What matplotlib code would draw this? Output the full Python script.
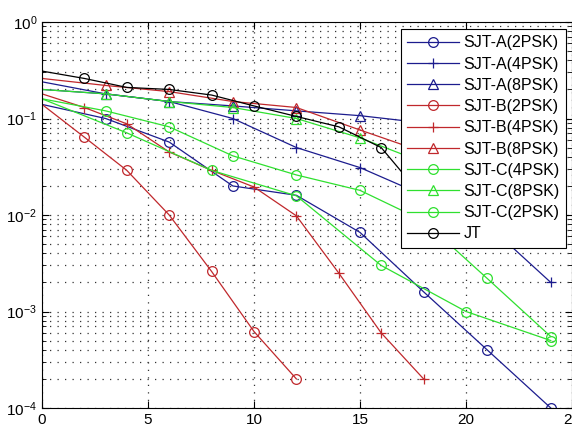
import matplotlib
matplotlib.use('Agg')
import matplotlib.pyplot as plt
from matplotlib.ticker import LogLocator, FixedLocator

plt.rcParams['font.family'] = ['Liberation Sans', 'DejaVu Sans']

# values (SNR on x, error rate on y)
x_a = [0, 3, 6, 9, 12, 15, 18, 21, 24]
a_2psk = [0.14, 0.10, 0.057, 0.020, 0.016, 0.0066, 0.0016, 0.0004, 0.0001]
a_4psk = [0.20, 0.18, 0.15, 0.10, 0.05, 0.031, 0.016, 0.008, 0.002]
a_8psk = [0.24, 0.18, 0.15, 0.135, 0.12, 0.107, 0.09, 0.075, 0.06]

x_b = [0, 2, 4, 6, 8, 10, 12, 14, 16, 18]
b_2psk = [0.14, 0.064, 0.029, 0.010, 0.0026, 0.00062, 0.0002]
b_4psk = [0.18, 0.13, 0.088, 0.045, 0.029, 0.0195, 0.0098, 0.0025, 0.0006, 0.0002]
x_b8 = [0, 3, 6, 9, 12, 15, 18, 21, 24]
b_8psk = [0.26, 0.22, 0.19, 0.15, 0.13, 0.076, 0.045, 0.025, 0.012]

x_c4 = [0, 3, 6, 9, 12, 15, 18, 21, 24]
c_4psk = [0.16, 0.12, 0.082, 0.041, 0.026, 0.018, 0.0087, 0.0022, 0.00055]
x_c8 = [0, 3, 6, 9, 12, 15, 18, 21, 24]
c_8psk = [0.20, 0.18, 0.15, 0.13, 0.10, 0.063, 0.035, 0.018, 0.008]
x_c2 = [0, 4, 8, 12, 16, 20, 24]
c_2psk = [0.16, 0.071, 0.029, 0.0158, 0.003, 0.001, 0.0005]

x_jt = [0, 2, 4, 6, 8, 10, 12, 14, 16, 18]
jt = [0.31, 0.26, 0.21, 0.20, 0.175, 0.135, 0.105, 0.082, 0.05, 0.015]

blue = '#1c1c8e'
red = '#c0282c'
green = '#2fe02f'

fig = plt.figure(figsize=(5.72, 4.28), dpi=100)
ax = fig.add_axes([42 / 572, 20 / 428, 530 / 572, 386 / 428])

style = dict(lw=0.9, ms=7, mfc='none', mew=0.9, markevery=slice(1, None))
ax.semilogy(x_a, a_2psk, 'o-', color=blue, label='SJT-A(2PSK)', **style)
ax.semilogy(x_a, a_4psk, '+-', color=blue, label='SJT-A(4PSK)', **style)
ax.semilogy(x_a, a_8psk, '^-', color=blue, label='SJT-A(8PSK)', **style)
ax.semilogy(x_b[:len(b_2psk)], b_2psk, 'o-', color=red, label='SJT-B(2PSK)', **style)
ax.semilogy(x_b, b_4psk, '+-', color=red, label='SJT-B(4PSK)', **style)
ax.semilogy(x_b8, b_8psk, '^-', color=red, label='SJT-B(8PSK)', **style)
ax.semilogy(x_c4, c_4psk, 'o-', color=green, label='SJT-C(4PSK)', **style)
ax.semilogy(x_c8, c_8psk, '^-', color=green, label='SJT-C(8PSK)', **style)
ax.semilogy(x_c2, c_2psk, 'o-', color=green, label='SJT-C(2PSK)', **style)
ax.semilogy(x_jt, jt, 'o-', color='black', label='JT', **style)

ax.set_xlim(0, 25)
ax.set_ylim(1e-4, 1)
ax.xaxis.set_major_locator(FixedLocator([0, 5, 10, 15, 20, 25]))
ax.yaxis.set_major_locator(LogLocator(base=10, numticks=10))
ax.yaxis.set_minor_locator(LogLocator(base=10, subs=range(2, 10), numticks=20))

grid_ls = (0, (1, 5))
ax.grid(True, which='major', axis='both', color='#333333', ls=grid_ls, lw=0.9)
ax.grid(True, which='minor', axis='y', color='#333333', ls=grid_ls, lw=0.9)

ax.tick_params(which='both', direction='in', top=True, right=True, labelsize=11)
ax.tick_params(which='major', length=5)
ax.tick_params(which='minor', length=3)
for s in ax.spines.values():
    s.set_linewidth(0.8)

leg = ax.legend(loc='upper right', bbox_to_anchor=((566 - 42) / 530, 1 - 7 / 386),
                borderaxespad=0, fontsize=11.5, handlelength=3.2, labelspacing=0.39,
                borderpad=0.4, handletextpad=0.3, fancybox=False, framealpha=1,
                edgecolor='black')
leg.get_frame().set_linewidth(0.8)

fig.savefig('out.png', dpi=100)
